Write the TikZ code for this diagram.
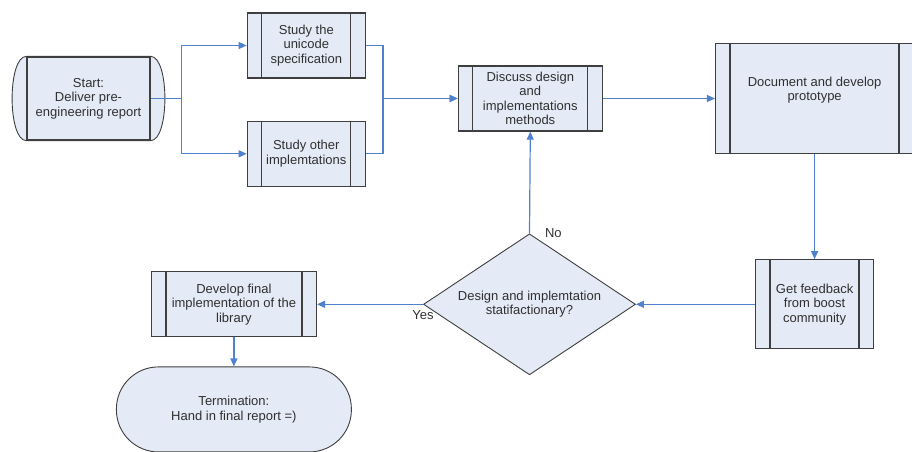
\documentclass[tikz,border=0pt]{standalone}
\usepackage{fontspec}
\setmainfont{Liberation Sans}
\usepackage{tikz}
\usetikzlibrary{shapes,arrows,positioning,arrows.meta,backgrounds}

\definecolor{boxfill}{HTML}{E4EAF6}
\definecolor{boxline}{HTML}{3F3F3F}
\definecolor{flowblue}{HTML}{4F81CD}
\definecolor{textgray}{HTML}{303030}

\begin{document}
\begin{tikzpicture}[x=1pt, y=1pt, node distance=40pt,
    font=\fontsize{13}{14.5}\selectfont, text=textgray,
    box line/.style={draw=boxline, line width=1.3pt},
    thin line/.style={draw=boxline, line width=0.9pt},
    proc block/.style={rectangle, box line, fill=boxfill, align=center,
        minimum width=118pt, minimum height=65pt,
        path picture={
            \draw[box line] ([xshift=14.5pt]path picture bounding box.north west) -- ([xshift=14.5pt]path picture bounding box.south west);
            \draw[box line] ([xshift=-14.5pt]path picture bounding box.north east) -- ([xshift=-14.5pt]path picture bounding box.south east);}},
    start block/.style={rectangle, box line, fill=boxfill, align=center, minimum width=123pt, minimum height=83pt},
    term block/.style={rectangle, rounded corners=42pt, thin line, fill=boxfill, align=center, minimum width=235pt, minimum height=85pt},
    choice block/.style={diamond, thin line, fill=boxfill, align=center, aspect=1.5, inner sep=0pt,
        minimum width=212pt, minimum height=141pt},
    flow arrow/.style={draw=flowblue, line width=1.2pt, -{Triangle[length=8pt,width=7pt]}},
    flow label/.style={inner sep=2pt}]

    \useasboundingbox (0,0) rectangle (912,-451);

    \node [start block] (start) at (88.5,-98.5) {Start:\\Deliver pre-\\engineering report};
    \node [proc block, right=96pt of start.east, yshift=53pt] (uni) {Study the\\unicode\\specification};
    \node [proc block, below=42pt of uni] (other) {Study other\\implemtations};
    \node [proc block, minimum width=144pt, right=307pt of start] (disc) {Discuss design\\and\\implementations\\methods};
    \node [proc block, minimum width=198pt, minimum height=110pt, right=112pt of disc,
        label={[align=center, yshift=8.5pt]center:{Document and develop\\prototype}}] (doc) {};
    \node [proc block, minimum height=89pt, below=105pt of doc] (fb) {Get feedback\\from boost\\community};
    \node [choice block, left=119pt of fb] (dec) {Design and implemtation\\statifactionary?};
    \node [proc block, minimum width=165pt, left=106pt of dec] (fin) {Develop final\\implementation of the\\library};
    \node [term block, below=29pt of fin] (term) {Termination:\\Hand in final report =)};

    % curved sides of the start block
    \begin{pgfonlayer}{background}
    \draw [thin line, fill=boxfill] (start.north west) .. controls +(-19,0) and +(-19,0) .. (start.south west)
        -- (start.south east) .. controls +(19,0) and +(19,0) .. (start.north east) -- cycle;
    \end{pgfonlayer}

    \draw [flow arrow] (start.east) -- ++(31,0) |- (uni.west);
    \draw [flow arrow] (start.east) -- ++(31,0) |- (other.west);
    \draw [flow arrow] (uni.east) -- ++(17,0) |- (disc.west);
    \draw [flow arrow] (other.east) -- ++(17,0) |- (disc.west);
    \draw [flow arrow] (disc) -- (doc);
    \draw [flow arrow] (doc) -- (doc |- fb.north);
    \draw [flow arrow] (fb) -- (dec);
    \draw [flow arrow] (dec.north) -- node [flow label, pos=0, anchor=west, xshift=13pt] {No} (disc.south);
    \draw [flow arrow] (dec.west) -- node [flow label, pos=0, anchor=north, yshift=-4pt] {Yes} (fin.east);
    \draw [flow arrow] (fin) -- (term);

\end{tikzpicture}
\end{document}
